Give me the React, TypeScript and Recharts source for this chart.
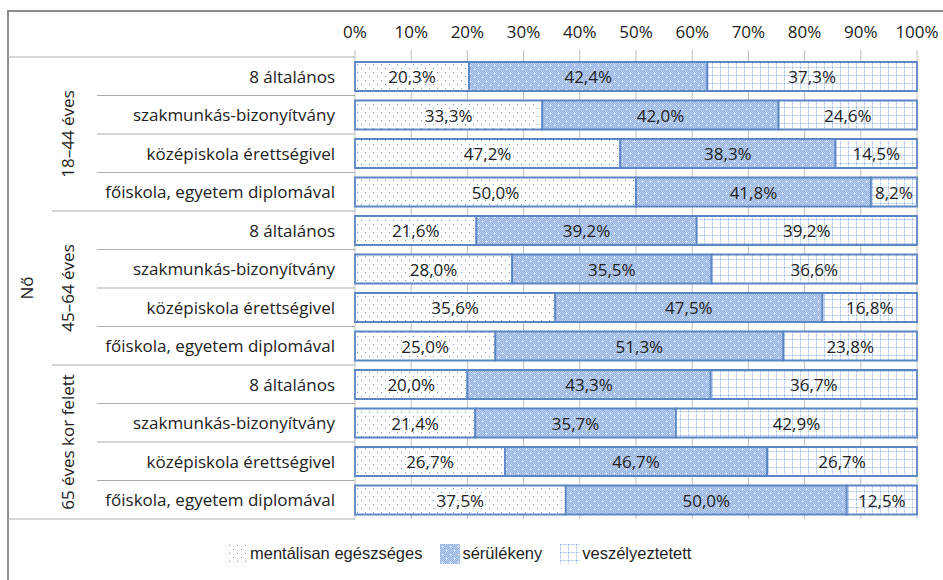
import { BarChart, Bar, XAxis, YAxis, CartesianGrid, Legend, LabelList } from "recharts";

// education levels, repeated in each age group
const levels = [
  "8 általános",
  "szakmunkás-bizonyítvány",
  "középiskola érettségivel",
  "főiskola, egyetem diplomával",
];
const ageGroups = ["18–44 éves", "45–64 éves", "65 éves kor felett"];
const sexLabel = "Nő";

const healthy = [20.3, 33.3, 47.2, 50.0, 21.6, 28.0, 35.6, 25.0, 20.0, 21.4, 26.7, 37.5];
const vulnerable = [42.4, 42.0, 38.3, 41.8, 39.2, 35.5, 47.5, 51.3, 43.3, 35.7, 46.7, 50.0];
const endangered = [37.3, 24.6, 14.5, 8.2, 39.2, 36.6, 16.8, 23.8, 36.7, 42.9, 26.7, 12.5];

const seriesNames = ["mentálisan egészséges", "sérülékeny", "veszélyeztetett"];
const xTicks = [0, 0.1, 0.2, 0.3, 0.4, 0.5, 0.6, 0.7, 0.8, 0.9, 1];

const rows = ageGroups.flatMap((group, g) =>
  levels.map((level, l) => {
    const i = g * levels.length + l;
    return {
      id: `${group}|${level}`,
      group,
      level,
      healthy: healthy[i],
      vulnerable: vulnerable[i],
      endangered: endangered[i],
    };
  })
);

// layout
const W = 935;
const H = 569;
const Y_AXIS_W = 347;
const X_AXIS_H = 46;
const PLOT_BOTTOM = 508;
const LEGEND_H = 21;
const BAND = (PLOT_BOTTOM - X_AXIS_H) / rows.length;

const TEXT = "#222222";
const GRID = "#bfbfbf";
const SEP = "#ababab";
const BAR_STROKE = "#5b86c5";

const fmt = (v: number) => `${v.toFixed(1).replace(".", ",")}%`;

function CategoryTick(props: any) {
  const { y, index } = props;
  const row = rows[index];
  if (!row) return null;
  const last = index === rows.length - 1;
  const groupEnd = index % levels.length === levels.length - 1;
  const sepX = last ? 0 : groupEnd ? 44 : 89;
  return (
    <g>
      <text
        x={327}
        y={y}
        textAnchor="end"
        dominantBaseline="central"
        fontSize={17}
        fill={TEXT}
      >
        {row.level}
      </text>
      <line x1={sepX} x2={Y_AXIS_W} y1={y + BAND / 2} y2={y + BAND / 2} stroke={SEP} />
      {index === 0 && (
        <line x1={0} x2={Y_AXIS_W} y1={y - BAND / 2} y2={y - BAND / 2} stroke={SEP} />
      )}
      {index % levels.length === 0 && (
        <text
          x={59}
          y={y + 1.5 * BAND}
          transform={`rotate(-90 59 ${y + 1.5 * BAND})`}
          textAnchor="middle"
          dominantBaseline="central"
          fontSize={17}
          fill={TEXT}
        >
          {row.group}
        </text>
      )}
      {index === 0 && (
        <text
          x={18}
          y={y + 5.5 * BAND}
          transform={`rotate(-90 18 ${y + 5.5 * BAND})`}
          textAnchor="middle"
          dominantBaseline="central"
          fontSize={17}
          fill={TEXT}
        >
          {sexLabel}
        </text>
      )}
    </g>
  );
}

function PercentTick(props: any) {
  const { x, payload } = props;
  return (
    <text x={x} y={20} textAnchor="middle" dominantBaseline="central" fontSize={17} fill={TEXT}>
      {`${Math.round(payload.value * 100)}%`}
    </text>
  );
}

const makeLabel = (values: number[]) => (props: any) => {
  const { x, y, width, height, index } = props;
  const v = values[index];
  if (v == null) return null;
  return (
    <text
      x={x + width / 2}
      y={y + height / 2}
      textAnchor="middle"
      dominantBaseline="central"
      fontSize={17}
      fill={TEXT}
    >
      {fmt(v)}
    </text>
  );
};

function LegendContent(props: any) {
  const { payload } = props;
  return (
    <div
      style={{
        display: "flex",
        alignItems: "center",
        height: LEGEND_H,
        fontFamily: '"Liberation Sans", Arial, sans-serif',
        fontSize: 16.5,
        color: "#1f1f1f",
        whiteSpace: "nowrap",
      }}
    >
      {(payload || []).map((entry: any) => (
        <div key={entry.value} style={{ display: "flex", alignItems: "center", marginRight: 18 }}>
          <svg width={20} height={20}>
            <rect width={20} height={20} fill={entry.color} />
          </svg>
          <span style={{ marginLeft: 2 }}>{entry.value}</span>
        </div>
      ))}
    </div>
  );
}

function Patterns() {
  return (
    <svg width={0} height={0} style={{ position: "absolute" }}>
      <defs>
        <pattern id="pDots" width={8} height={8} patternUnits="userSpaceOnUse">
          <rect width={8} height={8} fill="#ffffff" />
          <rect x={1} y={1} width={1} height={1} fill="#7096d0" />
          <rect x={5} y={5} width={1} height={1} fill="#7096d0" />
        </pattern>
        <pattern id="pChecker" width={2} height={2} patternUnits="userSpaceOnUse">
          <rect width={2} height={2} fill="#bdd1ef" />
          <rect x={0} y={0} width={1} height={1} fill="#93b2e2" />
          <rect x={1} y={1} width={1} height={1} fill="#93b2e2" />
        </pattern>
        <pattern id="pMid" width={8} height={8} patternUnits="userSpaceOnUse">
          <rect width={8} height={8} fill="url(#pChecker)" />
          <rect x={2} y={2} width={1} height={1} fill="#ffffff" />
          <rect x={6} y={6} width={1} height={1} fill="#ffffff" />
        </pattern>
        <pattern id="pGrid" width={8} height={8} patternUnits="userSpaceOnUse">
          <rect width={8} height={8} fill="#ffffff" />
          <rect x={0} y={0} width={1} height={8} fill="#d0def3" />
          <rect x={0} y={0} width={8} height={1} fill="#d0def3" />
          <rect x={0} y={0} width={1} height={1} fill="#86a8db" />
          <rect x={4} y={0} width={1} height={1} fill="#a9c2e7" />
          <rect x={0} y={4} width={1} height={1} fill="#a9c2e7" />
        </pattern>
      </defs>
    </svg>
  );
}

export default function App() {
  return (
    <div
      style={{
        position: "absolute",
        left: 8,
        top: 11,
        width: W,
        height: H,
        fontFamily: '"Open Sans", sans-serif',
      }}
    >
      <Patterns />
      <div
        style={{
          position: "absolute",
          left: -1,
          top: -1,
          width: W + 1,
          height: H + 1,
          borderTop: "2px solid #8c8c8c",
          borderLeft: "2px solid #8c8c8c",
          boxSizing: "border-box",
        }}
      />
      <BarChart
        width={W}
        height={H}
        data={rows}
        layout="vertical"
        stackOffset="expand"
        barSize={29}
        margin={{ top: 0, right: 26, bottom: H - PLOT_BOTTOM - LEGEND_H, left: 0 }}
      >
        <CartesianGrid horizontal={false} stroke={GRID} />
        <XAxis
          type="number"
          orientation="top"
          domain={[0, 1]}
          ticks={xTicks}
          height={X_AXIS_H}
          axisLine={false}
          tickLine={{ stroke: GRID }}
          tickSize={7}
          tick={<PercentTick />}
        />
        <YAxis
          type="category"
          dataKey="id"
          width={Y_AXIS_W}
          axisLine={false}
          tickLine={false}
          interval={0}
          tick={<CategoryTick />}
        />
        <Legend
          verticalAlign="bottom"
          content={<LegendContent />}
          wrapperStyle={{ left: 220, top: 532, width: "auto" }}
        />
        <Bar
          dataKey="healthy"
          name={seriesNames[0]}
          stackId="a"
          fill="url(#pDots)"
          stroke={BAR_STROKE}
          strokeWidth={1.8}
          isAnimationActive={false}
        >
          <LabelList content={makeLabel(healthy)} />
        </Bar>
        <Bar
          dataKey="vulnerable"
          name={seriesNames[1]}
          stackId="a"
          fill="url(#pMid)"
          stroke={BAR_STROKE}
          strokeWidth={1.8}
          isAnimationActive={false}
        >
          <LabelList content={makeLabel(vulnerable)} />
        </Bar>
        <Bar
          dataKey="endangered"
          name={seriesNames[2]}
          stackId="a"
          fill="url(#pGrid)"
          stroke={BAR_STROKE}
          strokeWidth={1.8}
          isAnimationActive={false}
        >
          <LabelList content={makeLabel(endangered)} />
        </Bar>
      </BarChart>
    </div>
  );
}
